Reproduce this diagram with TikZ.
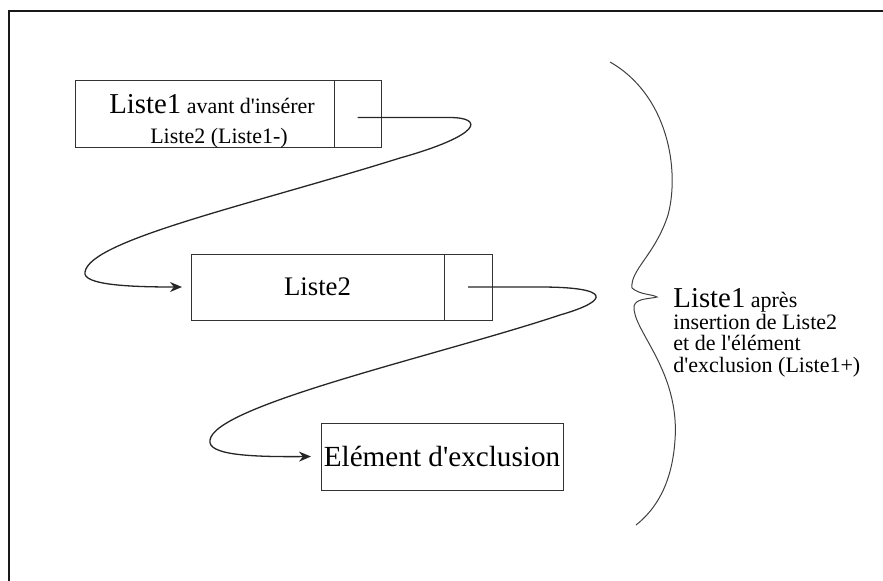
\documentclass[tikz,border=0pt]{standalone}
\usepackage{fontspec}
\setmainfont{Liberation Serif}
\usetikzlibrary{arrows.meta, positioning, calc}

\begin{document}
\begin{tikzpicture}[x=0.5pt, y=-0.5pt,
    % Node styles
    cell/.style={
        rectangle, draw=black!80, line width=0.5pt,
        minimum height=33.5pt, inner sep=0pt, outer sep=0pt,
    },
    ptr/.style={
        cell, minimum width=23.5pt,
    },
    txt/.style={
        font=\fontsize{11}{10.8}\selectfont, inner sep=0pt,
    },
    line/.style={
        draw=black!85, line width=0.65pt, -{Stealth[length=6pt, width=5pt]},
    },
    frame/.style={draw=black!90, line width=1pt},
    brace/.style={draw=black!75, line width=0.5pt},
]
\useasboundingbox (0,0) rectangle (883,580);

% === Frame ===
\draw[frame] (9,600) -- (9,11) -- (900,11);

% === Liste1 before insertion ===
\node[cell, minimum width=129.5pt] (l1) at (204.5,113.5) {};
\node[ptr, right=0pt of l1] (l1p) {};
\node[txt, anchor=base] (l1a) at (212,113)
    {{\fontsize{14.4}{16}\selectfont Liste1} avant d\textquotesingle insérer};
\node[txt, anchor=base] (l1b) at (219,143) {Liste2 (Liste1-)};

% === Liste2 ===
\node[cell, minimum width=126.5pt, minimum height=33pt,
    font=\fontsize{13.4}{16}\selectfont] (l2) at (317.5,287) {Liste2};
\node[ptr, minimum width=24pt, minimum height=33pt, right=0pt of l2] (l2p) {};

% === Exclusion element ===
\node[cell, minimum width=121pt, font=\fontsize{14.6}{17}\selectfont]
    (l3) at (442,456.5) {Elément d\textquotesingle exclusion};

% === Result label ===
\node[txt, anchor=north west, align=left] (l1plus) at (673,288)
    {{\fontsize{14.4}{16}\selectfont Liste1} après\\insertion de Liste2\\
     et de l\textquotesingle élément\\d\textquotesingle exclusion (Liste1+)};

% === Links ===
\draw[line] ([yshift=-2pt]l1p.center) -- ++(92,0)
    .. controls +(35,0) and (482,135) .. (400,158)
    .. controls (250,205) and (90,240) .. (85,272)
    .. controls (82,285) and (130,287) .. ([xshift=-4.5pt]l2.west);
\draw[line] (l2p.center) -- ++(72,0)
    .. controls +(70,0) and (612,300) .. (560,315)
    .. controls (440,355) and (215,405) .. (210,440)
    .. controls (207,455) and (250,457) .. ([xshift=-5pt]l3.west);

% === Brace ===
\draw[brace] (610,62) .. controls (668,95) and (680,170) .. (668,215)
    .. controls (655,255) and (630,270) .. (632,288)
    .. controls (640,295) and (652,294) .. (657,297)
    .. controls (650,299) and (636,298) .. (634,306)
    .. controls (632,330) and (680,370) .. (675,440)
    .. controls (672,485) and (655,510) .. (636,525);

\end{tikzpicture}
\end{document}
